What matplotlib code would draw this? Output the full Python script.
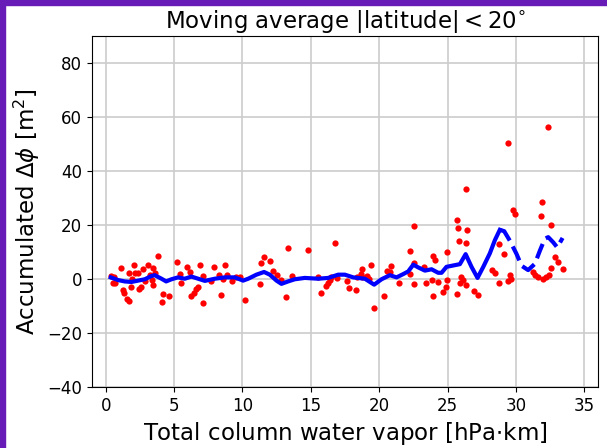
import matplotlib.pyplot as plt
from matplotlib.patches import Rectangle

# scatter of individual samples: column water vapor vs accumulated delta phi
tcwv = [0.37, 0.61, 0.54, 0.71, 1.10, 1.25, 1.34, 1.54, 1.74, 1.74, 1.93, 2.07, 2.12, 2.37,
        1.83, 2.47, 2.56, 2.75, 2.86, 3.10, 3.24, 3.38, 3.49, 3.59, 3.49, 3.83, 4.18, 4.13,
        4.65, 5.19, 5.44, 5.54, 5.92, 6.13, 6.27, 6.46, 6.61, 6.90, 7.14, 7.14, 6.74, 7.73,
        7.93, 8.26, 8.41, 8.57, 8.76, 8.85, 9.20, 9.53, 9.79, 10.22, 11.29, 11.39, 11.58,
        11.98, 12.22, 12.51, 12.80, 13.19, 13.34, 13.59, 14.80, 15.54, 15.73, 16.11, 16.22,
        16.37, 16.46, 16.80, 16.90, 17.63, 17.78, 18.32, 18.41, 18.66, 18.71, 18.76, 19.14,
        19.23, 19.39, 19.63, 20.35, 20.55, 20.76, 20.85, 21.44, 22.22, 22.22, 22.51, 22.51,
        22.51, 23.29, 23.39, 23.88, 23.92, 24.07, 23.97, 24.31, 24.65, 24.85, 24.99, 24.94,
        25.68, 25.68, 25.78, 25.83, 25.88, 25.97, 26.11, 26.32, 26.41, 26.37, 26.32, 26.95,
        27.19, 28.22, 28.46, 28.75, 28.79, 29.14, 29.40, 32.33, 29.45, 29.56, 29.61, 29.75,
        29.94, 31.22, 31.37, 31.60, 31.98, 32.19, 32.43, 31.93, 31.84, 32.57, 32.82, 33.06,
        32.57, 33.45]
dphi = [1.2, 0.6, -1.4, -1.6, 4.2, -4.1, -5.3, -7.5, -8.2, 2.3, -0.1, 5.0, 2.3, 2.3,
        -3.1, -3.8, -2.8, 3.8, -0.6, 5.3, 1.4, -0.4, 4.1, 2.3, -2.3, 8.5, -5.5, -8.7,
        -6.3, 6.3, 1.8, -1.4, 4.5, 2.6, -6.3, -5.3, -3.6, 5.0, 1.1, -9.0, -2.8, -0.6,
        4.3, 1.4, -5.8, -0.1, 5.0, 1.6, -0.8, 0.6, 0.6, -7.7, -1.8, 5.8, 8.0,
        6.8, 3.1, 1.6, -0.4, -6.8, 11.4, 1.1, 10.7, 0.9, -5.3, -2.6, -1.4,
        -0.4, 0.9, 13.2, 0.4, -0.6, -3.4, -4.1, 0.6, 1.8, 3.6, 0.9, 1.1,
        0.1, 5.0, -10.9, -6.3, 3.1, 2.6, 4.8, -1.6, 10.4, 1.8, 19.8, 5.8,
        -1.8, 4.5, -1.6, -0.4, 8.7, 7.0, -6.3, -1.1, -4.8, -2.8, -0.4, 10.0,
        -5.5, 21.8, 19.0, 13.9, -1.4, 0.9, -0.4, 33.3, 18.1, 13.2, -2.3, -4.3,
        -6.0, 3.3, 2.1, 12.9, -1.6, 9.2, 50.5, 56.4, -0.6, 1.4, 0.1, 25.7,
        24.0, 2.6, 1.6, 0.6, -0.1, 0.9, 1.4, 28.6, 23.2, 20.0, 8.2, 6.3,
        4.1, 3.6]

# moving average, well sampled part
avg_x = [0.37, 0.91, 1.39, 1.88, 2.37, 2.86, 3.34, 3.59, 4.08, 4.42, 4.81, 5.29, 5.78, 6.27,
         6.76, 7.25, 7.98, 8.71, 9.44, 10.05, 10.42, 11.02, 11.58, 12.00, 12.49, 12.85,
         13.34, 13.83, 14.56, 15.54, 16.27, 17.00, 17.49, 18.10, 18.95, 19.63, 20.17,
         20.78, 21.27, 21.75, 22.12, 22.49, 22.85, 23.34, 23.83, 24.31, 24.56, 24.92,
         25.41, 25.90, 26.32, 26.75, 27.19, 27.61, 28.09, 28.46, 28.82]
avg_y = [0.6, -0.4, -0.9, -1.1, -0.6, -0.1, 1.1, 1.4, 0.1, -0.9, -0.1, 0.6, 0.1, 0.9,
         0.1, -0.7, 0.1, 0.6, 0.6, -0.6, 0.1, 1.6, 2.6, 1.6, -0.6, -1.8,
         -0.9, -0.1, 0.4, 0.1, 0.4, 1.6, 1.6, 0.6, 0.1, -2.1, -0.1,
         1.4, 0.6, 1.8, 2.8, 5.3, 4.3, 3.1, 3.6, 2.3, 2.3, 4.5,
         5.0, 5.5, 9.2, 4.5, 0.4, 4.5, 9.5, 14.4, 18.2]

# moving average, sparse part
sparse_x = [28.82, 29.14, 29.55, 30.04, 30.41, 30.89, 31.38, 31.75, 32.11, 32.36, 32.72,
            33.02, 33.41]
sparse_y = [18.2, 17.7, 14.2, 9.3, 4.9, 3.3, 5.6, 10.5, 14.9, 15.5, 13.6, 11.7, 15.2]

fig = plt.figure(figsize=(6.07, 4.48), dpi=100)
ax = fig.add_axes([0.1516, 0.1362, 0.8336, 0.7834])

ax.plot(tcwv, dphi, 'o', color='red', markersize=4.5, markeredgewidth=0)
ax.plot(avg_x, avg_y, '-', color='blue', linewidth=3)
ax.plot(sparse_x, sparse_y, '--', color='blue', linewidth=3)

ax.set_xlim(-1, 36)
ax.set_ylim(-40, 90)
ax.set_xticks(range(0, 36, 5))
ax.set_yticks(range(-40, 81, 20))
ax.grid(True, color='#cccccc', linewidth=1.2)
ax.tick_params(labelsize=12)

ax.set_title(r'Moving average $|\mathrm{latitude}| < 20^{\circ}$', fontsize=16.5)
ax.set_xlabel('Total column water vapor [hPa$\\cdot$km]', fontsize=16.5)
ax.set_ylabel(r'Accumulated $\Delta\phi$ [m$^2$]', fontsize=16.5)

# purple frame on the top and left edges
fig.patches.append(Rectangle((0, 0), 5 / 607, 1, transform=fig.transFigure,
                             color='#671cb8', zorder=10))
fig.patches.append(Rectangle((0, 1 - 5 / 448), 1, 5 / 448, transform=fig.transFigure,
                             color='#671cb8', zorder=10))

fig.savefig('out.png', dpi=100)
